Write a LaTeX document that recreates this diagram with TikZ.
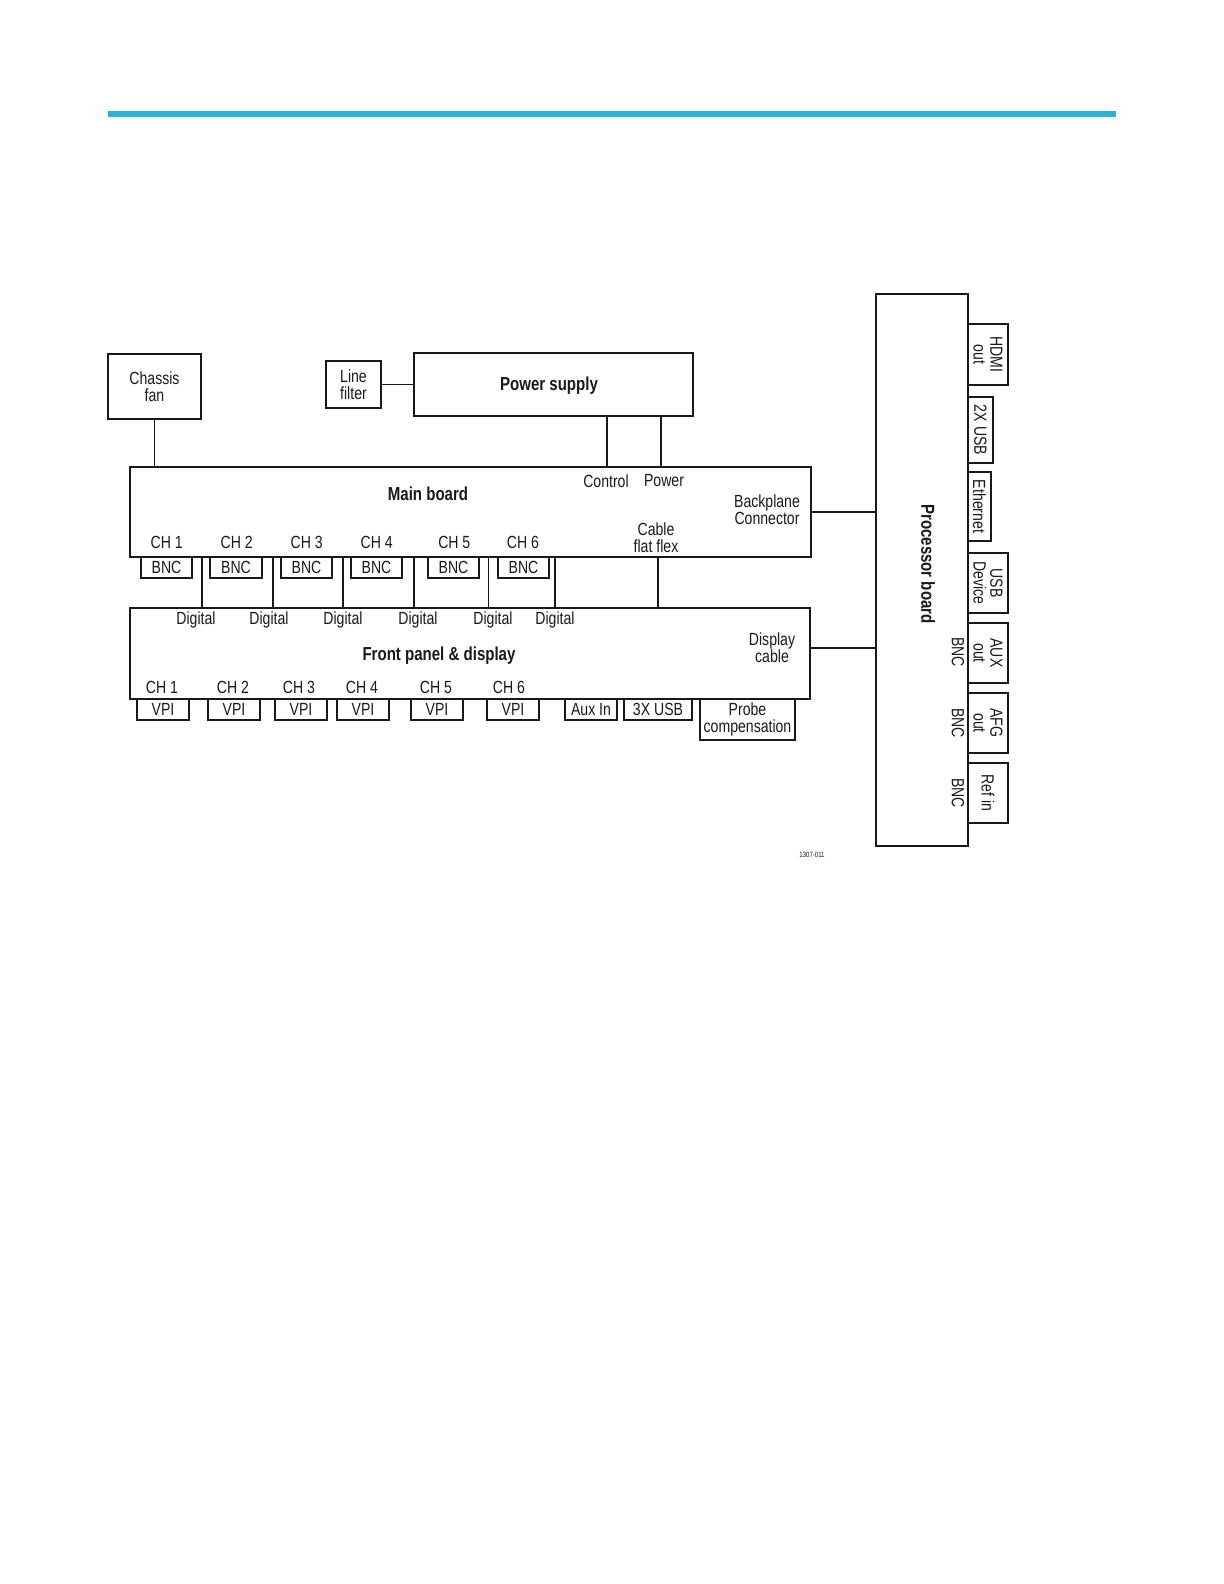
\documentclass[tikz,border=0pt]{standalone}
\usepackage{fontspec}
\setmainfont{Liberation Sans}[FakeStretch=0.8]
\usetikzlibrary{fit}
\definecolor{barcyan}{RGB}{38,180,212}
\definecolor{ink}{RGB}{25,25,25}
\begin{document}
\begin{tikzpicture}[x=0.5pt,y=-0.5pt,
  every node/.style={font=\fontsize{8.8}{8.4}\selectfont, text=ink},
  box/.style={draw=ink, line width=0.9pt, inner sep=0pt},
  wire/.style={draw=ink, line width=0.8pt},
  lbl/.style={inner sep=0pt, align=center},
  blbl/.style={inner sep=0pt, align=center, font=\fontsize{9.4}{9}\selectfont\bfseries}]
\useasboundingbox (0,0) rectangle (1224,1584);
\fill[barcyan] (108,110.7) rectangle (1116,116.7);

% top blocks
\node[box, fit={(108,354) (201,419)}] (fan) {};
\node[lbl] (fanT) at (fan.center) {Chassis\\fan};
\node[box, fit={(326,361) (381,408)}] (lf) {};
\node[lbl] (lfT) at (lf.center) {Line\\filter};
\node[box, fit={(414,353) (693,416)}] (ps) {};
\node[blbl] (pst) at (549,386) {Power supply};

% main board
\node[box, fit={(130,467) (811,557)}] (main) {};
\node[blbl] (mainT) at (428,494) {Main board};
\node[lbl] (ctl) at (606,481) {Control};
\node[lbl] (pwr) at (664,481) {Power};
\node[lbl] (bpc) at (767,510) {Backplane\\Connector};
\node[lbl] (cff) at (656,538) {Cable\\flat flex};
\foreach \i/\x in {1/166.7,2/236.7,3/306.7,4/376.7,5/454.3,6/523}
  \node[lbl] (mch\i) at (\x,542) {CH \i};

% BNC boxes
\foreach \i/\a/\b in {1/141/192,2/210/262,3/281/332,4/351/402,5/428/479,6/498/549}{
  \node[box, fit={(\a,557) (\b,578)}] (bnc\i) {};
  \node[lbl] (bncT\i) at (bnc\i.center) {BNC};
}

% front panel
\node[box, fit={(130,608) (810,699)}] (fp) {};
\node[blbl] (fpT) at (439,656) {Front panel \& display};
\node[lbl] (dcab) at (772,648) {Display\\cable};
\foreach \i/\x in {1/196,2/269,3/343,4/418,5/493,6/555}
  \node[lbl] (dig\i) at (\x,620) {Digital};
\foreach \i/\x in {1/162,2/233,3/299,4/362,5/436,6/509}
  \node[lbl] (fch\i) at (\x,687) {CH \i};
\foreach \i/\a/\b in {1/137/189,2/208/260,3/275/327,4/337/389,5/411/463,6/487/539}{
  \node[box, fit={(\a,699) (\b,720)}] (vpi\i) {};
  \node[lbl] (vpiT\i) at (vpi\i.center) {VPI};
}
\node[box, fit={(565,699) (617,720)}] (auxin) {};
\node[lbl] (auxinT) at (auxin.center) {Aux In};
\node[box, fit={(624,699) (692,720)}] (usb3) {};
\node[lbl] (usb3T) at (usb3.center) {3X USB};
\node[box, fit={(700,699) (795,740)}] (probe) {};
\node[lbl] (probeT) at (probe.center) {Probe\\compensation};

% processor board
\node[box, fit={(876,294) (968,846)}] (proc) {};
\node[blbl, rotate=-90] (procT) at (928,564) {Processor board};
\node[box, fit={(968,324) (1008,385)}] (hdmi) {};
\node[box, fit={(968,397) (993,463)}] (usb2) {};
\node[box, fit={(968,472) (991,541)}] (eth) {};
\node[box, fit={(968,553) (1008,613)}] (usbd) {};
\node[box, fit={(968,623) (1008,683)}] (auxo) {};
\node[box, fit={(968,693) (1008,753)}] (afg) {};
\node[box, fit={(968,763) (1008,823)}] (ref) {};
\node[lbl, rotate=-90] (hdmiT) at (hdmi.center) {HDMI\\out};
\node[lbl, rotate=-90] (usb2T) at (usb2.center) {2X USB};
\node[lbl, rotate=-90] (ethT) at (eth.center) {Ethernet};
\node[lbl, rotate=-90] (usbdT) at (usbd.center) {USB\\Device};
\node[lbl, rotate=-90] (auxoT) at (auxo.center) {AUX\\out};
\node[lbl, rotate=-90] (afgT) at (afg.center) {AFG\\out};
\node[lbl, rotate=-90] (refT) at (ref.center) {Ref in};
\node[lbl, rotate=-90] (bncA) at (958,652) {BNC};
\node[lbl, rotate=-90] (bncB) at (958,723) {BNC};
\node[lbl, rotate=-90] (bncC) at (958,793) {BNC};

\node[lbl, font=\fontsize{3.8}{3.8}\selectfont] (fig) at (812,855) {1307-011};

% connectors
\coordinate (ctlx) at (606.7,0);
\coordinate (pwrx) at (660.7,0);
\coordinate (dispy) at (0,647.7);
\draw[wire] (fan.south) -- (fan.south |- main.north);
\draw[wire] (lf.east) -- (lf.east -| ps.west);
\draw[wire] (ps.south -| ctlx) -- (main.north -| ctlx);
\draw[wire] (ps.south -| pwrx) -- (main.north -| pwrx);
\draw[wire] (main.east) -- (main.east -| proc.west);
\draw[wire] (fp.east |- dispy) -- (proc.west |- dispy);
\foreach \i/\x in {1/201.7,2/272.7,3/342.7,4/414,5/488.3,6/555,7/657.7}{
  \coordinate (dx\i) at (\x,0);
  \draw[wire] (main.south -| dx\i) -- (fp.north -| dx\i);
}
\end{tikzpicture}
\end{document}
